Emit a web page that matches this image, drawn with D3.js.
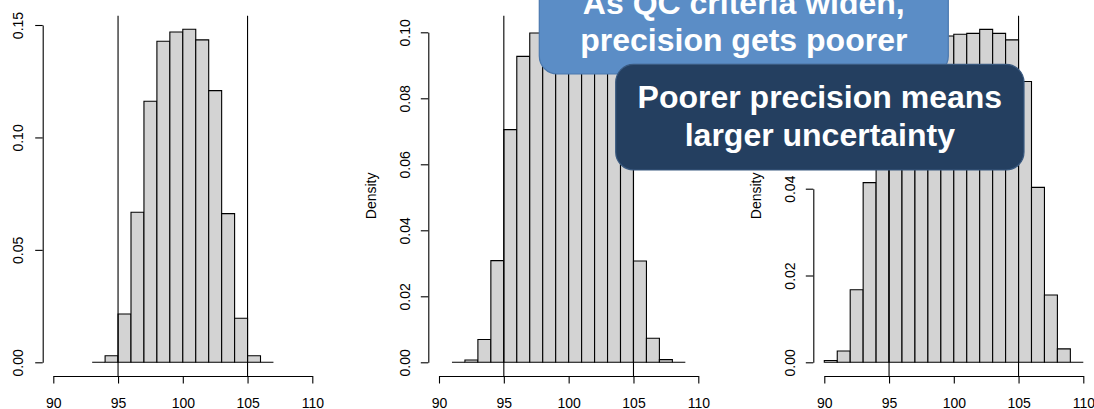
<!DOCTYPE html>
<html>
<head>
<meta charset="utf-8">
<script src="https://d3js.org/d3.v7.min.js"></script>
<style>
  html, body { margin: 0; padding: 0; background: #ffffff; overflow: hidden; }
  svg { display: block; }
  text { font-family: "Liberation Sans", Arial, Helvetica, sans-serif; }
</style>
</head>
<body>
<svg id="chart" width="1094" height="409"></svg>
<script>
// ---------------- data ----------------
const xTicks = [90, 95, 100, 105, 110];
const qcLimits = [95, 105];

const breaks1 = [93, 94, 95, 96, 97, 98, 99, 100, 101, 102, 103, 104, 105, 106, 107];
const density1 = [0, 0.0029, 0.0215, 0.0667, 0.1161, 0.1428, 0.1469, 0.1481, 0.1434, 0.1208, 0.0661, 0.0196, 0.0029, 0];
const yTicks1 = [0, 0.05, 0.10, 0.15];

const breaks2 = [91, 92, 93, 94, 95, 96, 97, 98, 99, 100, 101, 102, 103, 104, 105, 106, 107, 108, 109];
const density2 = [0, 0.0007, 0.0069, 0.0308, 0.0705, 0.0927, 0.0998, 0.0995, 0.1000, 0.1000, 0.0995, 0.0998, 0.0930, 0.0705, 0.0307, 0.0073, 0.0008, 0];
const yTicks2 = [0, 0.02, 0.04, 0.06, 0.08, 0.10];

const breaks3 = [90, 91, 92, 93, 94, 95, 96, 97, 98, 99, 100, 101, 102, 103, 104, 105, 106, 107, 108, 109, 110];
const density3 = [0.0004, 0.0026, 0.0167, 0.0414, 0.0640, 0.0720, 0.0745, 0.0750, 0.0752, 0.0752, 0.0756, 0.0758, 0.0767, 0.0758, 0.0743, 0.0647, 0.0403, 0.0155, 0.0031, 0];
const yTicks3 = [0, 0.02, 0.04, 0.06];

const yLabel = "Density";
const callout1 = ["As QC criteria widen,", "precision gets poorer"];
const callout2 = ["Poorer precision means", "larger uncertainty"];

// ---------------- layout ----------------
const svg = d3.select("#chart");
const plotTop = 15.7, plotBottom = 376, zeroY = 362.3;
const panels = [
  { breaks: breaks1, dens: density1, yTicks: yTicks1, axisX: 42.7, x0: 53.3, x1: 312.3, refVal: 0.15, refY: 25, labOff: -24.4 },
  { breaks: breaks2, dens: density2, yTicks: yTicks2, axisX: 428.3, x0: 439.0, x1: 698.3, refVal: 0.10, refY: 32.3, labOff: -23.3 },
  { breaks: breaks3, dens: density3, yTicks: yTicks3, axisX: 813.3, x0: 824.3, x1: 1083.3, refVal: 0.04, refY: 188.7, labOff: -23.3 }
];

panels.forEach(p => {
  const x = d3.scaleLinear().domain([90, 110]).range([p.x0, p.x1]);
  const y = d3.scaleLinear().domain([0, p.refVal]).range([zeroY, p.refY]);
  const g = svg.append("g");

  const bins = p.dens.map((d, i) => ({ a: p.breaks[i], b: p.breaks[i + 1], d }));
  // bars as closed paths so zero-height bins still show as a baseline segment (like R's hist)
  g.selectAll("path.bar").data(bins).join("path")
    .attr("class", "bar")
    .attr("d", d => `M${x(d.a)},${y(0)}V${y(d.d)}H${x(d.b)}V${y(0)}Z`)
    .attr("fill", "#d3d3d3")
    .attr("stroke", "#000")
    .attr("stroke-width", 1.1);

  // QC limit lines
  g.selectAll("line.qc").data(qcLimits).join("line")
    .attr("class", "qc")
    .attr("x1", d => x(d)).attr("x2", d => x(d))
    .attr("y1", plotTop).attr("y2", plotBottom)
    .attr("stroke", "#000").attr("stroke-width", 1.1);

  // x axis
  const xa = g.append("g").attr("transform", `translate(0,${plotBottom})`)
    .call(d3.axisBottom(x).tickValues(xTicks).tickSize(7.5).tickSizeOuter(0).tickPadding(14.5).tickFormat(d3.format("d")));
  xa.selectAll("path,line").attr("stroke", "#000").attr("stroke-width", 1.1);
  xa.selectAll("text").attr("font-size", 14).attr("fill", "#000")
    .attr("font-family", '"Liberation Sans", Arial, sans-serif');

  // y axis
  const ya = g.append("g").attr("transform", `translate(${p.axisX},0)`)
    .call(d3.axisLeft(y).tickValues(p.yTicks).tickSize(7.5).tickSizeOuter(0).tickFormat(d3.format(".2f")));
  ya.selectAll("path,line").attr("stroke", "#000").attr("stroke-width", 1.1);
  ya.selectAll("text")
    .attr("x", 0).attr("dy", "0.35em")
    .attr("text-anchor", "middle")
    .attr("transform", `translate(${p.labOff},0) rotate(-90)`)
    .attr("font-size", 14).attr("fill", "#000")
    .attr("font-family", '"Liberation Sans", Arial, sans-serif');

  // y label
  g.append("text")
    .attr("transform", `translate(${p.axisX - 57},${(plotTop + plotBottom) / 2}) rotate(-90)`)
    .attr("text-anchor", "middle").attr("dy", "0.35em")
    .attr("font-size", 14).attr("fill", "#000")
    .text(yLabel);
});

// ---------------- callouts ----------------
function callout(lines, x0, x1, yTop, yBot, fill, stroke, baselines) {
  const g = svg.append("g");
  g.append("rect")
    .attr("x", x0).attr("y", yTop)
    .attr("width", x1 - x0).attr("height", yBot - yTop)
    .attr("rx", 18).attr("ry", 18)
    .attr("fill", fill).attr("stroke", stroke).attr("stroke-width", 1.2);
  g.selectAll("text").data(lines).join("text")
    .attr("x", (x0 + x1) / 2)
    .attr("y", (d, i) => baselines[i])
    .attr("text-anchor", "middle")
    .attr("font-size", 32).attr("font-weight", "bold")
    .attr("fill", "#ffffff")
    .text(d => d);
}
callout(callout1, 539.3, 948.3, -40, 74, "#5b8dc6", "#4a78ae", [14, 50.5]);
callout(callout2, 615.7, 1024, 64.3, 170, "#243f60", "#3a5a80", [108.3, 145.7]);
</script>
</body>
</html>
